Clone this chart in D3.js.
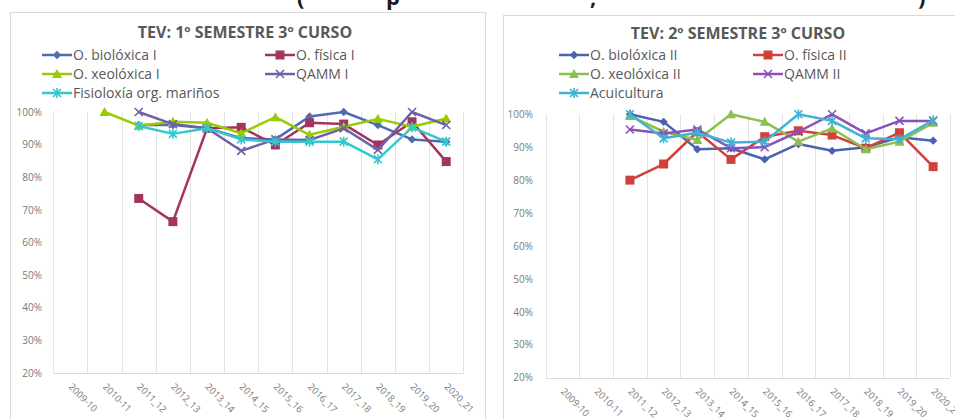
<!DOCTYPE html>
<html>
<head>
<meta charset="utf-8">
<script src="https://cdn.jsdelivr.net/npm/d3@7"></script>
<style>
  html, body { margin: 0; padding: 0; background: #fff; }
  svg { display: block; font-family: "Open Sans", "DejaVu Sans", sans-serif; }
</style>
</head>
<body>
<svg id="chart" width="955" height="419"></svg>
<script>
// ---------- DATA ----------
const categories = ["2009-10","2010-11","2011_12","2012_13","2013_14","2014_15","2015_16","2016_17","2017_18","2018_19","2019_20","2020_21"];
const yTicks = [20,30,40,50,60,70,80,90,100];

// Chart 1: 1º semestre
const title1 = "TEV: 1º SEMESTRE 3º CURSO";
const names1 = ["O. biolóxica I","O. física I","O. xeolóxica I","QAMM I","Fisioloxía org. mariños"];
const bioI    = [null,null,96,96,95,92,91.6,98.6,100,96,91.6,90.9];
const fisicaI = [null,null,73.5,66.4,95,95.3,89.9,96.7,96.3,89.9,97,84.8];
const xeoI    = [null,100,95.8,97,96.7,93.5,98.4,93,95.5,97.9,95.5,98];
const qammI   = [null,null,100,96.3,95,88.1,91.6,91.4,95,88.4,100,96];
const fisioI  = [null,null,95.7,93.3,95,91.6,90.9,90.9,90.9,85.5,95.3,90.9];

// Chart 2: 2º semestre
const title2 = "TEV: 2º SEMESTRE 3º CURSO";
const names2 = ["O. biolóxica II","O. física II","O. xeolóxica II","QAMM II","Acuicultura"];
const bioII    = [null,null,100,97.7,89.4,89.7,86.3,91,88.9,90,93,92];
const fisicaII = [null,null,80,84.9,94.7,86.3,93.2,95,93.7,89.7,94.4,84.1];
const xeoII    = [null,null,99.5,94.7,92.2,100,97.7,91.7,95.7,89.4,91.7,97.4];
const qammII   = [null,null,95.4,94.2,95.4,89.7,90,94.7,100,94.2,98,98];
const acuiII   = [null,null,100,92.7,94.4,91.4,91.7,100,98,92.7,92.4,98.2];

// ---------- DRAWING ----------
const svg = d3.select("#chart");

// partial heading, cut off at the top edge as in the reference
const headFrag = [["(",297],["p",386],[",",590],[")",918]];
svg.selectAll("text.head").data(headFrag).enter().append("text")
  .attr("class","head").attr("x",d=>d[1]).attr("y",5)
  .attr("font-size",22).attr("font-weight","bold").attr("fill","#1a1a1a")
  .text(d=>d[0]);

const markerTypes = ["diamond","square","triangle","x","star"];

function markerPath(g, type, color) {
  if (type === "diamond") {
    const r = 4.2;
    g.append("path").attr("d",`M0,${-r}L${r},0L0,${r}L${-r},0Z`).attr("fill",color);
  } else if (type === "square") {
    const s = 9;
    g.append("rect").attr("x",-s/2).attr("y",-s/2).attr("width",s).attr("height",s).attr("fill",color);
  } else if (type === "triangle") {
    g.append("path").attr("d","M0,-5L5,4L-5,4Z").attr("fill",color);
  } else if (type === "x") {
    const r = 4;
    g.append("path").attr("d",`M${-r},${-r}L${r},${r}M${-r},${r}L${r},${-r}`)
      .attr("stroke",color).attr("stroke-width",1.6).attr("fill","none");
  } else if (type === "star") {
    const r = 4;
    g.append("path").attr("d",`M${-r},${-r}L${r},${r}M${-r},${r}L${r},${-r}M0,${-r-1}L0,${r+1}`)
      .attr("stroke",color).attr("stroke-width",1.6).attr("fill","none");
  }
}

function drawChart(cfg) {
  const g = svg.append("g");
  g.append("rect").attr("x",cfg.frame[0]+0.5).attr("y",cfg.frame[1]+0.5)
    .attr("width",cfg.frame[2]).attr("height",cfg.frame[3])
    .attr("fill","#fff").attr("stroke","#d9d9d9").attr("stroke-width",1);

  const x = d3.scaleBand().domain(categories).range([cfg.x0, cfg.x1]);
  const y = d3.scaleLinear().domain([20,100]).range([cfg.yBot, cfg.yTop]);

  const edges = categories.map(c => x(c)).concat([x(categories[categories.length-1]) + x.bandwidth()]);
  g.selectAll("line.vgrid").data(edges).enter().append("line")
    .attr("x1",d=>Math.round(d)+0.5).attr("x2",d=>Math.round(d)+0.5)
    .attr("y1",cfg.yTop).attr("y2",cfg.yBot)
    .attr("stroke","#e3e3e3").attr("stroke-width",1);

  g.append("line").attr("x1",cfg.x0).attr("x2",cfg.x1)
    .attr("y1",Math.round(cfg.yBot)+0.5).attr("y2",Math.round(cfg.yBot)+0.5)
    .attr("stroke","#d9d9d9").attr("stroke-width",1);

  const ya = g.append("g").attr("transform",`translate(${cfg.tickX},0)`)
    .call(d3.axisLeft(y).tickValues(yTicks).tickFormat(d=>d+"%").tickSize(0).tickPadding(0));
  ya.select(".domain").remove();
  ya.selectAll("text").attr("fill","#7a7a7a").attr("font-size",10)
    .style("font-family",'"Open Sans", sans-serif');

  const xa = g.append("g").attr("transform",`translate(0,${cfg.yBot})`)
    .call(d3.axisBottom(x).tickSize(0).tickPadding(0));
  xa.select(".domain").remove();
  xa.selectAll("text")
    .attr("x",0).attr("y",0).attr("dy","0.35em")
    .attr("transform","translate(0,12) rotate(45)")
    .style("text-anchor","start")
    .attr("fill","#7a7a7a").attr("font-size",9.5)
    .style("font-family",'"Open Sans", sans-serif');

  g.append("text").attr("x",cfg.titleX).attr("y",cfg.titleY).attr("dy","0.35em")
    .attr("text-anchor","middle").attr("font-size",16).attr("font-weight","bold")
    .attr("fill","#595959").text(cfg.title);

  const line = d3.line().defined(d => d.v != null)
    .x(d => x(d.c) + x.bandwidth()/2).y(d => y(d.v));

  cfg.series.forEach((vals, i) => {
    const color = cfg.colors[i];
    const pts = vals.map((v, j) => ({c: categories[j], v}));
    g.append("path").datum(pts).attr("d", line)
      .attr("fill","none").attr("stroke",color).attr("stroke-width",2.5)
      .attr("stroke-linejoin","round");
    pts.filter(p => p.v != null).forEach(p => {
      const mg = g.append("g").attr("transform",`translate(${x(p.c)+x.bandwidth()/2},${y(p.v)})`);
      markerPath(mg, markerTypes[i], color);
    });
  });

  cfg.names.forEach((name, i) => {
    const lx = cfg.legCols[i % 2];
    const ly = cfg.legRows[Math.floor(i / 2)];
    const color = cfg.colors[i];
    const lg = g.append("g");
    lg.append("line").attr("x1",lx).attr("x2",lx+30).attr("y1",ly).attr("y2",ly)
      .attr("stroke",color).attr("stroke-width",2.5);
    const mg = lg.append("g").attr("transform",`translate(${lx+15},${ly})`);
    markerPath(mg, markerTypes[i], color);
    lg.append("text").attr("x",lx+31).attr("y",ly).attr("dy","0.35em")
      .attr("font-size",14).attr("fill","#595959").text(name);
  });
}

drawChart({
  frame: [10, 12, 475, 420],
  x0: 53.3, x1: 463.3, yTop: 112, yBot: 373,
  tickX: 42, titleX: 245, titleY: 32,
  legCols: [42, 265], legRows: [55, 74, 93],
  title: title1, names: names1,
  series: [bioI, fisicaI, xeoI, qammI, fisioI],
  colors: ["#4f6bb2", "#a3345e", "#99cc00", "#7060a8", "#33c7cf"]
});

drawChart({
  frame: [503, 15, 470, 420],
  x0: 545.7, x1: 950, yTop: 114.3, yBot: 377.7,
  tickX: 533, titleX: 738, titleY: 33,
  legCols: [559, 753], legRows: [55, 74, 93],
  title: title2, names: names2,
  series: [bioII, fisicaII, xeoII, qammII, acuiII],
  colors: ["#4a62b0", "#d0413c", "#8ebe4f", "#8a52b8", "#3fb3d4"]
});
</script>
</body>
</html>
